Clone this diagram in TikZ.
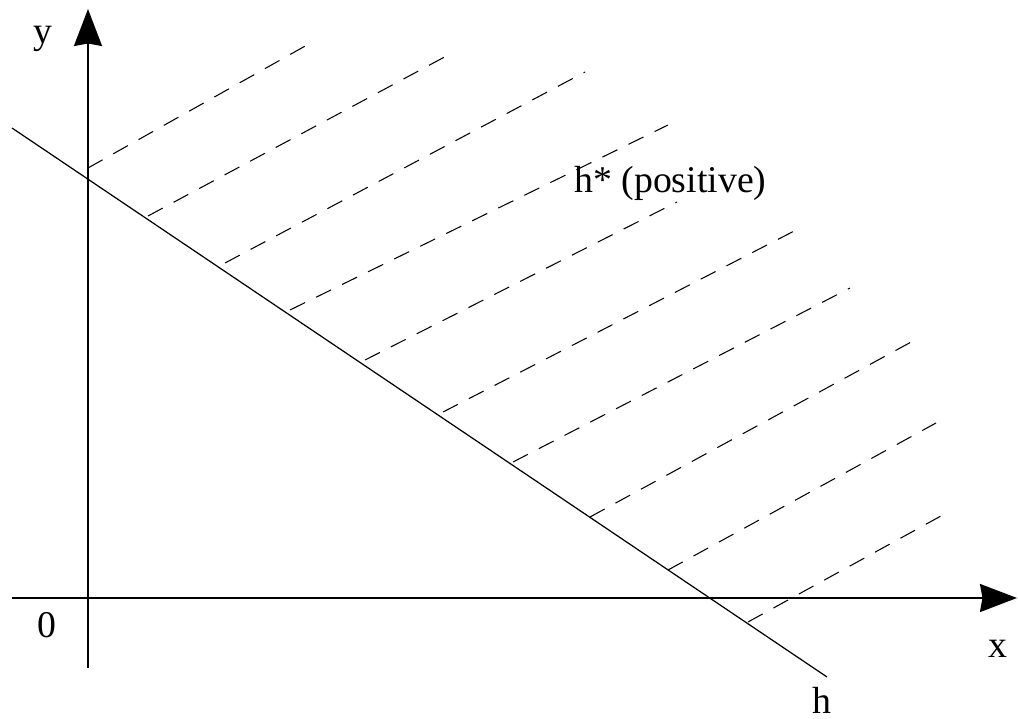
\documentclass[tikz,border=0pt]{standalone}
\usepackage{fontspec}
\setmainfont{Liberation Serif}
\usetikzlibrary{arrows.meta}

\begin{document}
\begin{tikzpicture}[
    x=0.02cm,y=-0.02cm,
    axis/.style={line width=1.1pt,-{Stealth[length=0.74cm,width=0.56cm,inset=0.05cm]}},
    hline/.style={line width=0.7pt},
    hatch/.style={line width=0.6pt,dash pattern=on 9.5pt off 7pt},
    lbl/.style={font=\fontsize{21.5}{25}\selectfont,inner sep=0pt,anchor=base}
  ]
    \useasboundingbox (0,0) rectangle (1018,719);
    \coordinate (xs) at (12,598);
    \coordinate (xe) at (1017,598);
    \coordinate (ys) at (88,668);
    \coordinate (ye) at (88,9);
    \coordinate (ha) at (12,128);
    \coordinate (hb) at (827,677);
    \draw[axis] (xs)--(xe);
    \draw[axis] (ys)--(ye);
    \draw[hline] (ha)--(hb);
    \foreach \i/\sx/\sy/\ex/\ey in {1/88/168/307/45,2/148/216/452/53,3/225/263/585/72,
        4/290/310/668/125,5/365/360/677/202,6/443/412/800/228,7/513/462/850/288,
        8/590/517/913/341,9/668/570/936/423,10/748/622/950/511}{
      \coordinate (s\i) at (\sx,\sy);
      \coordinate (e\i) at (\ex,\ey);
      \draw[hatch] (s\i)--(e\i);
    }
    \node[lbl] (ylab) at (43,44) {y};
    \node[lbl] (xlab) at (998,657) {x};
    \node[lbl] (orig) at (47,637) {0};
    \node[lbl] (hlab) at (822,713) {h};
    \node[lbl,anchor=base west] (hstar) at (574,193) {h* (positive)};
  \end{tikzpicture}
\end{document}
